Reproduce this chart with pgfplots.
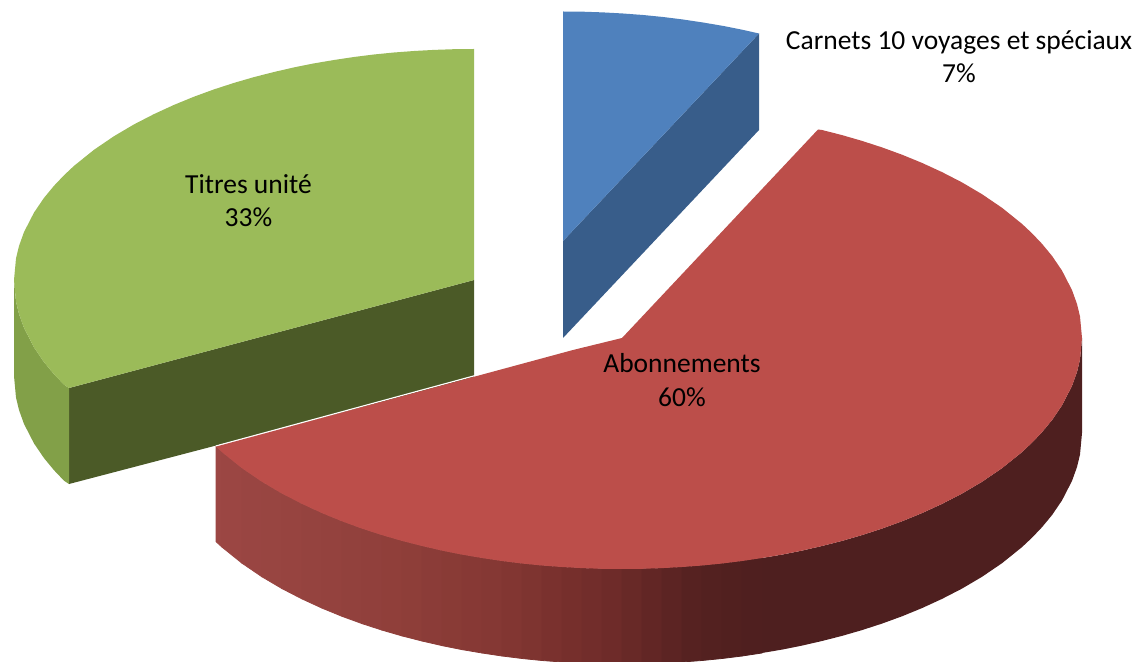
\documentclass[border=0pt]{standalone}
\usepackage{pgfplots}
\pgfplotsset{compat=1.18}
\usepackage{fontspec}
\setmainfont{Carlito}
\definecolor{redtop}{HTML}{BC4E4A}
\definecolor{reddark}{RGB}{78,31,31}
\definecolor{greentop}{HTML}{9BBB59}
\definecolor{greenside}{RGB}{130,160,72}
\definecolor{greenface}{RGB}{75,90,39}
\definecolor{bluetop}{HTML}{4F81BD}
\definecolor{blueface}{RGB}{56,93,138}
\pgfplotsset{colormap={redwall}{rgb255(216)=(156,71,68) rgb255(400)=(143,63,58) rgb255(500)=(132,55,51) rgb255(620)=(108,42,40) rgb255(700)=(84,33,32) rgb255(762)=(78,31,31)}}
\tikzset{lab/.style={font=\fontsize{13.75}{16.6}\selectfont, align=center, text=black, inner sep=0pt}}
\begin{document}
\begin{tikzpicture}
\useasboundingbox (0,0) rectangle (570pt,331pt);
\begin{axis}[
  at={(0,0)}, anchor=south west,
  scale only axis, width=570pt, height=331pt,
  xmin=0, xmax=1140, ymin=0, ymax=662, y dir=reverse,
  hide axis, clip=true
]
% blue slice
\addplot[fill=blueface, draw=none] coordinates {(563,241)(759,33.5)(759,130)(563,338)} -- cycle;
\addplot[fill=bluetop, draw=none] coordinates {(563,241)(563,11.5)(583,11.7)(603,12.4)(623,13.5)(643,15)(663,17)(683,19.5)(703,22.5)(723,25.9)(743,29.9)(759,33.5)} -- cycle;
% green slice
\addplot[fill=greenface, draw=none] coordinates {(69,388)(474,280)(474,378)(69,484)} -- cycle;
\addplot[fill=greenside, draw=none] coordinates {(14,280)(16,301.5)(19,314)(24,327.9)(34,347.4)(44,362.1)(54,374.2)(64,384.7)(69,388)(69,484)(64,480.7)(54,470.2)(44,458.1)(34,443.4)(24,423.9)(19,410)(16,397.5)(14,376)} -- cycle;
\addplot[fill=greentop, draw=none] coordinates {(474,280)(474,49)(454,49.2)(434,49.9)(414,51)(394,52.5)(374,54.5)(354,57)(334,60)(314,63.4)(294,67.4)(274,72)(254,77.1)(234,82.9)(214,89.4)(194,96.7)(174,104.9)(154,114.1)(134,124.4)(114,136.2)(94,149.8)(74,165.9)(64,175.3)(54,185.8)(44,197.9)(34,212.6)(24,232.1)(19,246)(16,258.5)(14,280)(16,301.5)(19,314)(24,327.9)(34,347.4)(44,362.1)(54,374.2)(64,384.7)(69,388)} -- cycle;
% red slice: side wall
\addplot[surf, shader=faceted, faceted color=mapped color, line width=0.4pt, colormap name=redwall, mesh/rows=2, mesh/cols=29, point meta=explicit, point meta min=216, point meta max=762] table[x=x, y=y, meta=c] {
x y c
216 446.6 216
222 452.1 222
242 468.2 242
262 481.8 262
282 493.6 282
302 503.9 302
322 513.1 322
342 521.3 342
362 528.6 362
382 535.1 382
402 540.9 402
422 546 422
442 550.6 442
462 554.6 462
482 558 482
502 561 502
522 563.5 522
542 565.5 542
562 567 562
582 568.1 582
602 568.8 602
622 569 622
642 568.8 642
662 568.1 662
682 567 682
702 565.5 702
722 563.5 722
742 561 742
762 558 762
216 541.6 216
222 547.1 222
242 563.2 242
262 576.8 262
282 588.6 282
302 598.9 302
322 608.1 322
342 616.3 342
362 623.6 362
382 630.1 382
402 635.9 402
422 641 422
442 645.6 442
462 649.6 462
482 653 482
502 656 502
522 658.5 522
542 660.5 542
562 662 562
582 663.1 582
602 663.8 602
622 664 622
642 663.8 642
662 663.1 662
682 662 682
702 660.5 702
722 658.5 722
742 656 742
762 653 762
};
\addplot[fill=reddark, draw=none] coordinates {(762,558)(782,554.6)(802,550.6)(822,546)(842,540.9)(862,535.1)(882,528.6)(902,521.3)(922,513.1)(942,503.9)(962,493.6)(982,481.8)(1002,468.2)(1022,452.1)(1032,442.7)(1042,432.2)(1052,420.1)(1062,405.4)(1072,385.9)(1077,372)(1080,359.5)(1082,338)(1082,433)(1080,454.5)(1077,467)(1072,480.9)(1062,500.4)(1052,515.1)(1042,527.2)(1032,537.7)(1022,547.1)(1002,563.2)(982,576.8)(962,588.6)(942,598.9)(922,608.1)(902,616.3)(882,623.6)(862,630.1)(842,635.9)(822,641)(802,645.6)(782,649.6)(762,653)} -- cycle;
% thin white seam between the green slice and the red one
\addplot[white, line width=0.6pt, forget plot] coordinates {(216,446)(573,349)};
% red slice: top
\addplot[fill=redtop, draw=none] coordinates {(622,338)(818,129.5)(822,130)(842,135.1)(862,140.9)(882,147.4)(902,154.7)(922,162.9)(942,172.1)(962,182.4)(982,194.2)(1002,207.8)(1022,223.9)(1032,233.3)(1042,243.8)(1052,255.9)(1062,270.6)(1072,290.1)(1077,304)(1080,316.5)(1082,338)(1080,359.5)(1077,372)(1072,385.9)(1062,405.4)(1052,420.1)(1042,432.2)(1032,442.7)(1022,452.1)(1002,468.2)(982,481.8)(962,493.6)(942,503.9)(922,513.1)(902,521.3)(882,528.6)(862,535.1)(842,540.9)(822,546)(802,550.6)(782,554.6)(762,558)(742,561)(722,563.5)(702,565.5)(682,567)(662,568.1)(642,568.8)(622,569)(602,568.8)(582,568.1)(562,567)(542,565.5)(522,563.5)(502,561)(482,558)(462,554.6)(442,550.6)(422,546)(402,540.9)(382,535.1)(362,528.6)(342,521.3)(322,513.1)(302,503.9)(282,493.6)(262,481.8)(242,468.2)(222,452.1)(216,446.6)(573,350)} -- cycle;
% labels
\node[lab] at (axis cs:959,57) {Carnets 10 voyages et spéciaux\\7\%};
\node[lab] at (axis cs:248.5,201) {Titres unité\\33\%};
\node[lab] at (axis cs:682,380) {Abonnements\\60\%};
\end{axis}
\end{tikzpicture}
\end{document}
